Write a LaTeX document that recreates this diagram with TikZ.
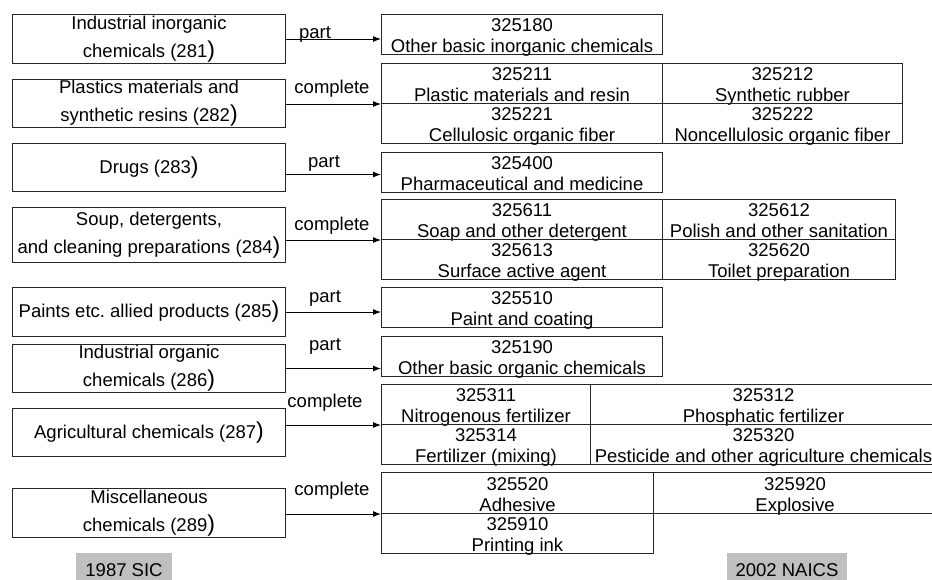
\documentclass[tikz,border=0pt]{standalone}
\usepackage{fontspec}
\setmainfont{Liberation Sans}
\usetikzlibrary{arrows.meta}
\frenchspacing

% code number above, industry name below, inside a 40pt cell
\newcommand{\naicsitem}[2]{\vbox to 40pt{\offinterlineskip\vskip17pt
  \hbox to 0pt{\hss\smash{#1}\hss}\vskip21pt
  \hbox to 0pt{\hss\smash{#2}\hss}\vss}}
\newcommand{\bigparen}{{\fontsize{23}{23}\selectfont)}}

\begin{document}
\begin{tikzpicture}[x=1pt, y=-1pt, line width=1pt,
    every node/.style={font=\fontsize{18.5}{28}\selectfont},
    sic/.style={draw=black!85, minimum width=273pt, inner sep=0pt, align=center, anchor=north west},
    cell/.style={draw=black!85, inner sep=0pt, anchor=north west, minimum height=40pt},
    rel/.style={anchor=base},
    year/.style={fill=black!25, inner xsep=9pt, inner ysep=10pt, anchor=base},
    >={Latex[length=8pt, width=6pt]}
    ]
    \useasboundingbox (0,0) rectangle (932,579);

    % 1987 SIC groups
    \node[sic, minimum height=49pt] (s1) at (12,14) {Industrial inorganic\\chemicals (281\bigparen};
    \node[sic, minimum height=48pt] (s2) at (12,79) {Plastics materials and\\synthetic resins (282\bigparen};
    \node[sic, minimum height=48pt] (s3) at (12,143) {Drugs (283\bigparen};
    \node[sic, minimum height=55pt] (s4) at (12,207) {Soup, detergents,\\and cleaning preparations (284\bigparen};
    \node[sic, minimum height=49pt] (s5) at (12,287) {Paints etc. allied products (285\bigparen};
    \node[sic, minimum height=48pt] (s6) at (12,344) {Industrial organic\\chemicals (286\bigparen};
    \node[sic, minimum height=48pt] (s7) at (12,408) {Agricultural chemicals (287\bigparen};
    \node[sic, minimum height=49pt] (s8) at (12,488) {Miscellaneous\\chemicals (289\bigparen};

    % 2002 NAICS industries
    \node[cell, minimum width=281pt] (n1) at (381,14) {\naicsitem{325180}{Other basic inorganic chemicals}};

    \node[cell, minimum width=281pt] (n2a) at (381,63) {\naicsitem{325211}{Plastic materials and resin}};
    \node[cell, minimum width=240pt] (n2b) at (662,63) {\naicsitem{325212}{Synthetic rubber}};
    \node[cell, minimum width=281pt] (n2c) at (381,103) {\naicsitem{325221}{Cellulosic organic fiber}};
    \node[cell, minimum width=240pt] (n2d) at (662,103) {\naicsitem{325222}{Noncellulosic organic fiber}};

    \node[cell, minimum width=281pt] (n3) at (381,152) {\naicsitem{325400}{Pharmaceutical and medicine}};

    \node[cell, minimum width=281pt] (n4a) at (381,199) {\naicsitem{325611}{Soap and other detergent}};
    \node[cell, minimum width=233pt] (n4b) at (662,199) {\naicsitem{325612}{Polish and other sanitation}};
    \node[cell, minimum width=281pt] (n4c) at (381,239) {\naicsitem{325613}{Surface active agent}};
    \node[cell, minimum width=233pt] (n4d) at (662,239) {\naicsitem{325620}{Toilet preparation}};

    \node[cell, minimum width=281pt] (n5) at (381,287) {\naicsitem{325510}{Paint and coating}};
    \node[cell, minimum width=281pt] (n6) at (381,336) {\naicsitem{325190}{Other basic organic chemicals}};

    \node[cell, minimum width=209pt] (n7a) at (381,384) {\naicsitem{325311}{Nitrogenous fertilizer}};
    \node[cell, minimum width=346pt] (n7b) at (590,384) {\naicsitem{325312}{Phosphatic fertilizer}};
    \node[cell, minimum width=209pt] (n7c) at (381,424) {\naicsitem{325314}{Fertilizer (mixing)}};
    \node[cell, minimum width=346pt] (n7d) at (590,424) {\naicsitem{325320}{Pesticide and other agriculture chemicals}};

    \node[cell, minimum width=272pt, minimum height=41pt] (n8a) at (381,472) {\naicsitem{325520}{Adhesive}};
    \node[cell, minimum width=283pt, minimum height=41pt] (n8b) at (653,472) {\naicsitem{325920}{Explosive}};
    \node[cell, minimum width=272pt] (n8c) at (381,513) {\naicsitem{325910}{Printing ink}};

    % mapping arrows
    \coordinate (a3) at ([yshift=-7pt]s3.east);
    \draw[->] (s1.east) -- (s1.east -| n1.west);
    \draw[->] (n2a.south west -| s2.east) -- (n2a.south west);
    \draw[->] (a3) -- (a3 -| n3.west);
    \draw[->] (n4a.south west -| s4.east) -- (n4a.south west);
    \draw[->] (s5.east) -- (s5.east -| n5.west);
    \draw[->] (s6.east) -- (s6.east -| n6.west);
    \draw[->] (n7a.south west -| s7.east) -- (n7a.south west);
    \draw[->] (n8a.south west -| s8.east) -- (n8a.south west);

    \node[rel] (l1) at (315,38) {part};
    \node[rel] (l2) at (332,93) {complete};
    \node[rel] (l3) at (324,167) {part};
    \node[rel] (l4) at (332,230) {complete};
    \node[rel] (l5) at (325,302) {part};
    \node[rel] (l6) at (325,350) {part};
    \node[rel] (l7) at (325,407) {complete};
    \node[rel] (l8) at (332,495) {complete};

    % classification years
    \node[year] (sic) at (124,576) {1987 SIC};
    \node[year] (naics) at (787,576) {2002 NAICS};

\end{tikzpicture}
\end{document}
